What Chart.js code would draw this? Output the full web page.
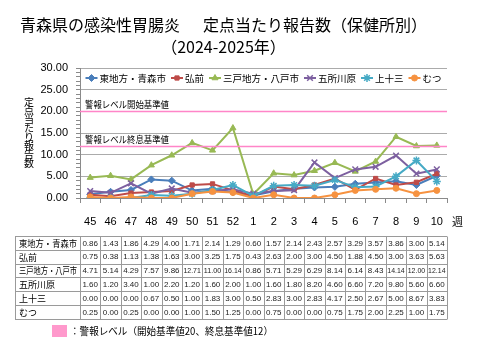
<!DOCTYPE html>
<html>
<head>
<meta charset="utf-8">
<script src="https://cdn.jsdelivr.net/npm/chart.js@4/dist/chart.umd.min.js"></script>
<style>
html,body{margin:0;padding:0;background:#fff;}
#wrap{width:480px;height:360px;}
</style>
</head>
<body>
<div id="wrap"><canvas id="c" width="480" height="360"></canvas></div>
<script>
// ---- data ----
const titleLines = ['青森県の感染性胃腸炎　  定点当たり報告数（保健所別）', '（2024-2025年）'];
const weeks = ['45','46','47','48','49','50','51','52','1','2','3','4','5','6','7','8','9','10'];
const seriesNames = ['東地方・青森市','弘前','三戸地方・八戸市','五所川原','上十三','むつ'];
const higashiAomori = [0.86,1.43,1.86,4.29,4.00,1.71,2.14,1.29,0.60,1.57,2.14,2.43,2.57,3.29,3.57,3.86,3.00,5.14];
const hirosaki      = [0.75,0.38,1.13,1.38,1.63,3.00,3.25,1.75,0.43,2.63,2.00,3.00,4.50,1.88,4.50,3.00,3.63,5.63];
const sannoheHachinohe = [4.71,5.14,4.29,7.57,9.86,12.71,11.00,16.14,0.86,5.71,5.29,6.29,8.14,6.14,8.43,14.14,12.00,12.14];
const goshogawara   = [1.60,1.20,3.40,1.00,2.20,1.20,1.60,2.00,1.00,1.60,1.80,8.20,4.60,6.60,7.20,9.80,5.60,6.60];
const kamitosan     = [0.00,0.00,0.00,0.67,0.50,1.00,1.83,3.00,0.50,2.83,3.00,2.83,4.17,2.50,2.67,5.00,8.67,3.83];
const mutsu         = [0.25,0.00,0.25,0.00,0.00,1.00,1.50,1.25,0.00,0.75,0.00,0.00,0.75,1.75,2.00,2.25,1.00,1.75];
const alertStart = 20;
const alertEnd = 12;
const alertStartLabel = '警報レベル開始基準値';
const alertEndLabel = '警報レベル終息基準値';
const yAxisLabel = '定点当たり報告数';
const xUnitLabel = '週';
const noteText = '：警報レベル（開始基準値20、終息基準値12）';

// ---- styles ----
const colors = ['#4A7EBB','#BE4B48','#98B954','#7D60A0','#46AAC5','#F69240'];
const markers = ['rectRot','rect','triangle','crossRot','star','circle'];
const markerR = [3.5,3,3.5,4,4,3];
const pink = '#FF85C8';
const JP = '"Noto Sans CJK JP", "Noto Sans", sans-serif';
const NUM = '"Liberation Sans", Arial, sans-serif';
const allSeries = [higashiAomori, hirosaki, sannoheHachinohe, goshogawara, kamitosan, mutsu];

const datasets = allSeries.map((d, i) => ({
  label: seriesNames[i],
  data: d,
  borderColor: colors[i],
  backgroundColor: colors[i],
  pointBackgroundColor: colors[i],
  pointBorderColor: colors[i],
  borderWidth: 2,
  pointStyle: markers[i],
  pointRadius: markerR[i],
  pointBorderWidth: (markers[i]==='crossRot'||markers[i]==='star') ? 1.5 : 1,
  tension: 0,
  order: 10 - i
}));

function drawMarker(ctx, style, r, x, y, color, bw) {
  ctx.save();
  ctx.fillStyle = color; ctx.strokeStyle = color; ctx.lineWidth = bw;
  if (Chart.helpers && Chart.helpers.drawPoint) {
    Chart.helpers.drawPoint(ctx, {pointStyle: style, radius: r, rotation: 0, borderWidth: bw}, x, y);
  } else {
    ctx.beginPath(); ctx.arc(x, y, r, 0, Math.PI*2); ctx.fill();
  }
  ctx.restore();
}

const extras = {
  id: 'extras',
  afterDatasetsDraw(chart) {
    const ctx = chart.ctx, ca = chart.chartArea, y = chart.scales.y;
    ctx.save();
    [[alertStart, alertStartLabel],[alertEnd, alertEndLabel]].forEach(([v, lab]) => {
      const py = Math.round(y.getPixelForValue(v)) + 0.5;
      ctx.strokeStyle = pink; ctx.lineWidth = 1.6;
      ctx.beginPath(); ctx.moveTo(ca.left, py); ctx.lineTo(ca.right, py); ctx.stroke();
      ctx.fillStyle = '#000'; ctx.font = '9.5px ' + JP;
      ctx.textAlign = 'left'; ctx.textBaseline = 'middle';
      ctx.fillText(lab, ca.left + 5, py - 7, 84);
    });
    ctx.restore();
  },
  afterDraw(chart) {
    const ctx = chart.ctx, ca = chart.chartArea, x = chart.scales.x;
    ctx.save();
    ctx.setTransform(1, 0, 0, 1, 0, 0);
    // legend
    ctx.font = '9.5px ' + JP;
    const sampleW = 12, gap = 2, spacing = 5;
    const widths = seriesNames.map(n => sampleW + gap + ctx.measureText(n).width);
    const total = widths.reduce((a,b)=>a+b,0) + spacing*(seriesNames.length-1);
    let lx = (ca.left + ca.right)/2 - total/2;
    const ly = ca.top + 10;
    seriesNames.forEach((n, i) => {
      ctx.strokeStyle = colors[i]; ctx.lineWidth = 2;
      ctx.beginPath(); ctx.moveTo(lx, ly); ctx.lineTo(lx + sampleW, ly); ctx.stroke();
      drawMarker(ctx, markers[i], markerR[i], lx + sampleW/2, ly, colors[i], datasets[i].pointBorderWidth);
      ctx.fillStyle = '#000'; ctx.textAlign = 'left'; ctx.textBaseline = 'middle';
      ctx.font = '9.5px ' + JP;
      ctx.fillText(n, lx + sampleW + gap, ly + 0.5);
      lx += widths[i] + spacing;
    });
    // y axis label (stacked, upright characters)
    ctx.font = '10px ' + JP; ctx.textAlign = 'center'; ctx.textBaseline = 'middle'; ctx.fillStyle = '#000';
    Array.from(yAxisLabel).forEach((c, i) => ctx.fillText(c, 29, 102 + i * 8.7));
    // week unit
    ctx.font = '11px ' + JP; ctx.textAlign = 'left';
    ctx.fillText(xUnitLabel, ca.right + 5, 222);
    // data table
    const n = weeks.length;
    const w = (ca.right - ca.left) / n;
    const top = 236, rowH = 13.8, tLeft = 15;
    ctx.strokeStyle = '#9a9a9a'; ctx.lineWidth = 1;
    for (let r = 0; r <= seriesNames.length; r++) {
      const py = Math.round(top + r*rowH) + 0.5;
      ctx.beginPath(); ctx.moveTo(tLeft, py); ctx.lineTo(ca.right, py); ctx.stroke();
    }
    const bottom = Math.round(top + seriesNames.length*rowH) + 0.5;
    const colX = [tLeft];
    for (let c = 0; c <= n; c++) colX.push(ca.left + c*w);
    colX.forEach(cx => {
      const px = Math.round(cx) + 0.5;
      ctx.beginPath(); ctx.moveTo(px, Math.round(top)+0.5); ctx.lineTo(px, bottom); ctx.stroke();
    });
    seriesNames.forEach((name, r) => {
      const cy = top + r*rowH + rowH/2 + 0.5;
      ctx.fillStyle = '#000'; ctx.font = '9px ' + JP; ctx.textAlign = 'left';
      ctx.fillText(name, tLeft + 4, cy, ca.left - tLeft - 7);
      ctx.font = '8px ' + NUM; ctx.textAlign = 'center'; ctx.fillStyle = '#222';
      allSeries[r].forEach((v, c) => {
        ctx.fillText(v.toFixed(2), x.getPixelForValue(c), cy, w - 3);
      });
    });
    // note
    ctx.fillStyle = '#FF99CC';
    ctx.fillRect(52, 325, 15, 12);
    ctx.fillStyle = '#000'; ctx.font = '10px ' + JP; ctx.textAlign = 'left';
    ctx.fillText(noteText, 70, 331.5, 203);
    ctx.restore();
  }
};

new Chart(document.getElementById('c'), {
  type: 'line',
  data: { labels: weeks, datasets },
  options: {
    responsive: false,
    animation: false,
    layout: { padding: { left: 0, right: 33, top: 0, bottom: 122 } },
    plugins: {
      legend: { display: false },
      tooltip: { enabled: false },
      title: {
        display: true,
        text: titleLines,
        color: '#000',
        font: { family: JP, size: 16, weight: 'normal', lineHeight: 1.375 },
        padding: { top: 14, bottom: 10 }
      }
    },
    scales: {
      x: {
        offset: true,
        afterFit(s) { s.height = 40; },
        grid: { drawOnChartArea: false, drawTicks: true, tickLength: 5, color: '#8a8a8a', offset: true },
        border: { color: '#8a8a8a' },
        ticks: { color: '#000', font: { family: NUM, size: 11 }, padding: 12, maxRotation: 0, autoSkip: false }
      },
      y: {
        min: 0, max: 30,
        afterFit(s) { s.width = 80; },
        grid: {
          color: ctx => (ctx.tick && ctx.tick.value % 5 === 0 && ctx.tick.value !== 0) ? '#ababab' : 'rgba(0,0,0,0)',
          tickColor: '#8a8a8a', tickLength: 4
        },
        border: { color: '#8a8a8a' },
        ticks: {
          stepSize: 1, maxTicksLimit: 31, autoSkip: false,
          color: '#000', font: { family: NUM, size: 11 }, padding: 8,
          callback: v => (v % 5 === 0 ? v.toFixed(2) : '')
        }
      }
    }
  },
  plugins: [extras]
});
</script>
</body>
</html>
